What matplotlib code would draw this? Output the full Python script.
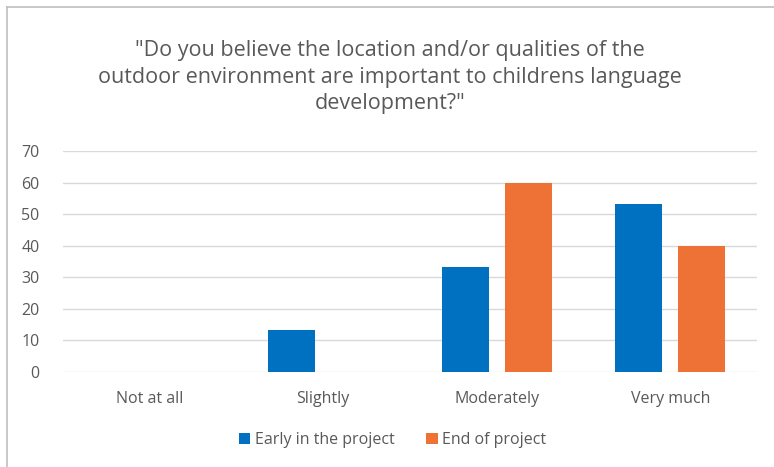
import numpy as np
import matplotlib.pyplot as plt
from matplotlib.lines import Line2D

categories = ['Not at all', 'Slightly', 'Moderately', 'Very much']
early = [0, 13.3, 33.3, 53.3]
end = [0, 0, 60, 40]
series_names = ['Early in the project', 'End of project']

plt.rcParams['font.family'] = ['Open Sans', 'DejaVu Sans']

fig = plt.figure(figsize=(7.74, 4.67), dpi=100)
ax = fig.add_axes([0.0814, 0.2034, 0.8966, 0.4733])

x = np.arange(len(categories))
w = 0.27
ax.bar(x - 0.181, early, w, color='#0070C0', label=series_names[0], zorder=3)
ax.bar(x + 0.181, end, w, color='#EE7236', label=series_names[1], zorder=3)

ax.set_xlim(-0.5, 3.5)
ax.set_ylim(0, 70)
ax.set_yticks(range(0, 71, 10))
ax.set_xticks(x)
ax.set_xticklabels(categories)
ax.grid(axis='y', color='#d9d9d9', linewidth=1, zorder=0)
for s in ax.spines.values():
    s.set_visible(False)
ax.tick_params(length=0, colors='#595959', labelsize=11.5)
ax.tick_params(axis='y', pad=17)
ax.tick_params(axis='x', pad=14)

fig.text(0.504, 0.835,
         '"Do you believe the location and/or qualities of the\n'
         'outdoor environment are important to childrens language\n'
         'development?"',
         ha='center', va='center', fontsize=15.5, color='#595959',
         linespacing=1.36)

ax.legend(loc='upper center', bbox_to_anchor=(0.475, -0.205), ncol=2,
          frameon=False, fontsize=11.5, labelcolor='#595959',
          handlelength=0.7, handleheight=0.7, handletextpad=0.3,
          columnspacing=2.0)

# chart frame: only top and left edges are visible in the crop
fig.add_artist(Line2D([0.009, 1.0], [0.985, 0.985], transform=fig.transFigure,
                      color='#bfbfbf', linewidth=1.2))
fig.add_artist(Line2D([0.009, 0.009], [0.0, 0.985], transform=fig.transFigure,
                      color='#bfbfbf', linewidth=1.2))

fig.savefig('out.png', dpi=100)
